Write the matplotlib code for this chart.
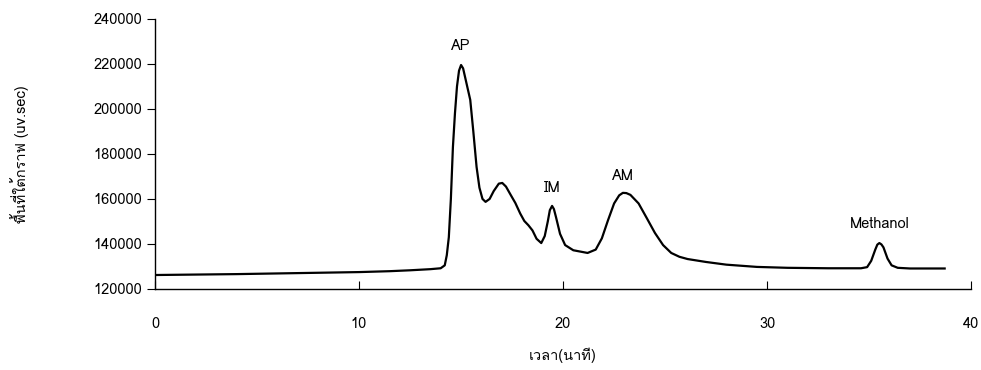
import numpy as np
import matplotlib
matplotlib.use('Agg')
import matplotlib.pyplot as plt
from matplotlib import font_manager
from matplotlib.ft2font import FT2Font

# chromatogram: time (min) / area signal (uv.sec)
time_min = [0.0, 2.0, 4.0, 6.0, 8.0, 10.0, 11.5, 12.5, 13.5, 14.0,
            14.2, 14.3, 14.4, 14.5, 14.6, 14.7, 14.8, 14.9, 15.0, 15.1,
            15.2, 15.3, 15.45, 15.6, 15.76, 15.9, 16.05, 16.2, 16.4, 16.6,
            16.85, 17.02, 17.2, 17.45, 17.66, 17.9, 18.1, 18.3, 18.5, 18.7,
            18.93, 19.1, 19.25, 19.35, 19.46, 19.55, 19.65, 19.85, 20.1, 20.5,
            21.2, 21.6, 21.9, 22.2, 22.5, 22.75, 22.93, 23.1, 23.3, 23.7,
            24.1, 24.5, 24.9, 25.3, 25.7, 26.1, 27.0, 28.0, 29.5, 31.0,
            33.0, 34.6, 34.9, 35.1, 35.3, 35.4, 35.5, 35.6, 35.7, 35.9,
            36.1, 36.4, 37.0, 38.7]
signal = [126200, 126400, 126600, 126900, 127200, 127500, 127900, 128300, 128800, 129200,
          130500, 135000, 143000, 160000, 183000, 198000, 210000, 217000, 219500, 218000,
          214000, 210000, 204000, 190000, 174200, 165000, 160000, 158700, 160000, 163500,
          166800, 167100, 165500, 161500, 158200, 153500, 150200, 148300, 146000, 142300,
          140400, 143500, 150000, 155000, 156900, 155500, 152000, 144500, 139500, 137200,
          136000, 137500, 142500, 150500, 158000, 161600, 162700, 162600, 161800, 158000,
          151500, 144900, 139500, 136000, 134300, 133300, 132000, 130800, 129800, 129400,
          129200, 129200, 129700, 132500, 137500, 139700, 140400, 139800, 138500, 133500,
          130500, 129400, 129100, 129100]

peak_names = ['AP', 'IM', 'AM', 'Methanol']
peak_times = [15.0, 19.46, 22.93, 35.5]

x_ticks = [0, 10, 20, 30, 40]
y_ticks = [120000, 140000, 160000, 180000, 200000, 220000, 240000]

# look for a font that has thai glyphs
thai_fonts = []
for f in font_manager.fontManager.ttflist:
    try:
        if ord('ก') in FT2Font(f.fname).get_charmap():
            thai_fonts.append(f.name)
    except Exception:
        pass
plt.rcParams['font.family'] = thai_fonts[:1] + ['Liberation Sans', 'DejaVu Sans']

fig = plt.figure(figsize=(9.81, 3.70), dpi=100)
ax = fig.add_axes([0.158, 0.219, 0.832, 0.730])

ax.plot(time_min, signal, color='black', linewidth=1.6)

offsets = [9, 8, 7, 9]
for name, t, off in zip(peak_names, peak_times, offsets):
    v = np.interp(t, time_min, signal)
    ax.annotate(name, (t, v), xytext=(0, off), textcoords='offset points',
                ha='center', va='bottom', fontsize=10.5)

ax.set_xlim(0, 40)
ax.set_ylim(120000, 240000)
ax.set_xticks(x_ticks)
ax.set_yticks(y_ticks)
ax.set_yticklabels([str(v) for v in y_ticks])
ax.tick_params(axis='x', direction='in', length=6, labelsize=10.5, pad=20)
ax.tick_params(axis='y', direction='out', length=6, labelsize=10.5)
ax.spines['top'].set_visible(False)
ax.spines['right'].set_visible(False)
ax.spines['left'].set_linewidth(1.0)
ax.spines['bottom'].set_linewidth(1.0)

ax.set_xlabel('เวลา(นาที)', fontsize=10.5, labelpad=12)
ax.set_ylabel('พื้นที่ใต้กราฟ (uv.sec)', fontsize=10.5, labelpad=46)

fig.savefig('out.png', dpi=100)
